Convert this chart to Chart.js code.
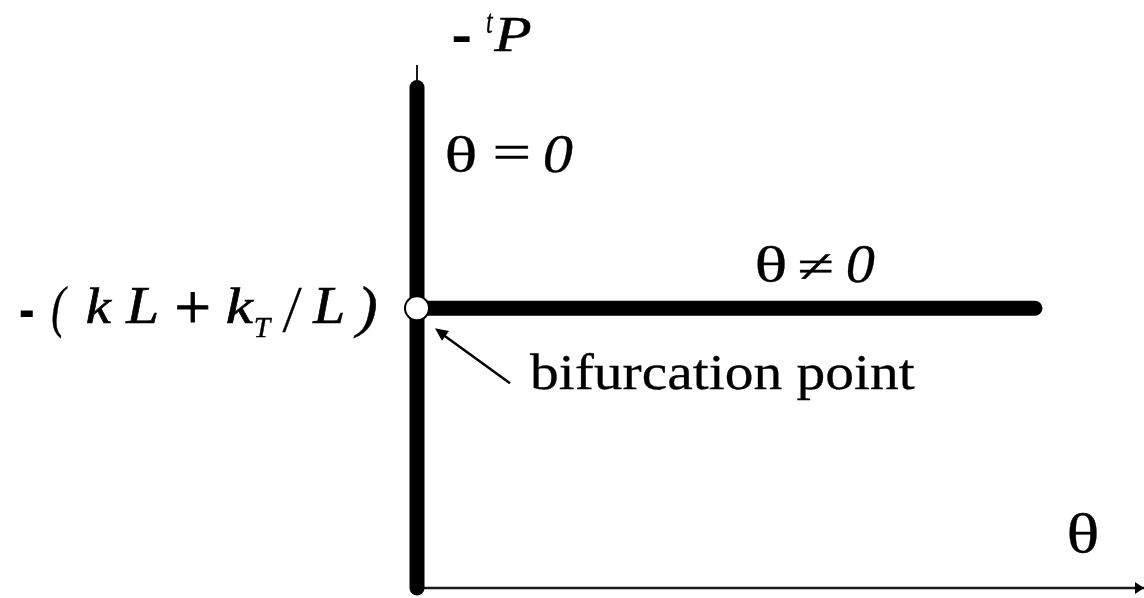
<!DOCTYPE html>
<html>
<head>
<meta charset="utf-8">
<script src="https://cdn.jsdelivr.net/npm/chart.js@4"></script>
<style>
  html, body { margin: 0; padding: 0; background: #fff; }
  canvas { display: block; }
</style>
</head>
<body>
<canvas id="bifurcation_chart" width="1144" height="598"></canvas>
<script>
const ctx = document.getElementById("bifurcation_chart");

// axis ranges (theta horizontally, -tP vertically)
const thetaRange = [0, 10];
const loadRange = [0, 10];

// trivial branch theta = 0 and buckled branch theta != 0
const criticalLoad = 5.35;
const trivialTheta = [0, 0];
const trivialLoad = [0, 9.57];
const buckledTheta = [0, 8.5];
const buckledLoad = [criticalLoad, criticalLoad];

const criticalLabel = ["-", "(", "k", "L", "+", "k", "T", "/", "L", ")"];

const toPoints = (xs, ys) => xs.map((x, i) => ({ x: x, y: ys[i] }));

const serif = '"Liberation Serif", "Times New Roman", serif';

// draws text so that its ink fills the given box, with a light outline for weight
function inkText(c, text, font, x0, y0, x1, y1, weight) {
  c.font = font;
  c.textAlign = "left";
  c.textBaseline = "alphabetic";
  const m = c.measureText(text);
  const w = m.actualBoundingBoxLeft + m.actualBoundingBoxRight;
  const h = m.actualBoundingBoxAscent + m.actualBoundingBoxDescent;
  const sx = (x1 - x0) / w;
  const sy = (y1 - y0) / h;
  const px = m.actualBoundingBoxLeft;
  const py = m.actualBoundingBoxAscent;
  c.save();
  c.translate(x0, y0);
  c.scale(sx, sy);
  c.fillText(text, px, py);
  if (weight) {
    c.lineWidth = weight / Math.sqrt(sx * sy);
    c.lineJoin = "miter";
    c.strokeText(text, px, py);
  }
  c.restore();
}

function arrowHead(c, fromX, fromY, toX, toY, len, half) {
  const a = Math.atan2(toY - fromY, toX - fromX);
  c.beginPath();
  c.moveTo(toX, toY);
  c.lineTo(toX - len * Math.cos(a) + half * Math.sin(a), toY - len * Math.sin(a) - half * Math.cos(a));
  c.lineTo(toX - len * Math.cos(a) - half * Math.sin(a), toY - len * Math.sin(a) + half * Math.cos(a));
  c.closePath();
  c.fill();
}

const labelsPlugin = {
  id: "labels",
  afterDatasetsDraw(chart) {
    const c = chart.ctx;
    const xs = chart.scales.x;
    const ys = chart.scales.y;
    const x0 = xs.getPixelForValue(0);
    const y0 = ys.getPixelForValue(0);
    const right = xs.getPixelForValue(thetaRange[1]);
    const bx = xs.getPixelForValue(0);
    const by = ys.getPixelForValue(criticalLoad);

    c.save();
    c.fillStyle = "#000";
    c.strokeStyle = "#000";

    // arrow at the end of the theta axis
    arrowHead(c, x0, y0, right, y0, 9, 6);

    // pointer to the bifurcation point
    const tipX = bx + 18, tipY = by + 20;
    const tailX = bx + 93, tailY = by + 75;
    c.lineWidth = 2.5;
    c.beginPath();
    c.moveTo(tailX, tailY);
    c.lineTo(tipX + 6, tipY + 5);
    c.stroke();
    arrowHead(c, tailX, tailY, tipX, tipY, 13, 6);

    // vertical axis title  - tP
    inkText(c, "-", "44px " + serif, 453, 34, 471, 41, 0);
    inkText(c, "t", "italic 24px " + serif, 487, 13, 494, 33, 0.3);
    inkText(c, "P", "italic 50px " + serif, 493, 18, 531, 51, 0.5);

    // horizontal axis title
    inkText(c, "\u03b8", "54px " + serif, 1069, 513, 1097, 553, 0.3);

    // critical load  - (kL + kT/L)
    const boxes = [
      [20, 309, 33, 316, "50px ", 0],
      [52, 285, 68, 338, "italic 50px ", 0.4],
      [87, 287, 112, 323, "italic 50px ", 0.7],
      [125, 288, 157, 323, "italic 50px ", 0.7],
      [177, 293, 208, 323, "50px ", 1.0],
      [227, 287, 254, 323, "italic 50px ", 0.7],
      [255, 318, 272, 337, "italic 26px ", 0.4],
      [282, 287, 302, 332, "italic 50px ", 0.4],
      [312, 288, 343, 323, "italic 50px ", 0.7],
      [353, 285, 377, 338, "italic 50px ", 0.4],
    ];
    criticalLabel.forEach((t, i) => {
      const b = boxes[i];
      inkText(c, t, b[4] + serif, b[0], b[1], b[2], b[3], b[5]);
    });

    // branch labels
    inkText(c, "\u03b8", "54px " + serif, 447, 135, 475, 173, 0.3);
    inkText(c, "=", "54px " + serif, 495, 146, 528, 159, 0.5);
    inkText(c, "0", "italic 54px " + serif, 545, 135, 573, 173, 0.3);

    inkText(c, "\u03b8", "54px " + serif, 757, 245, 785, 283, 0.3);
    inkText(c, "\u2260", "54px " + serif, 800, 253, 832, 279, 0.5);
    inkText(c, "0", "italic 54px " + serif, 848, 245, 875, 283, 0.3);

    inkText(c, "bifurcation point", "46px " + serif, 530, 352, 915, 400, 0.3);
    c.restore();
  },
};

const bifurcationChart = new Chart(ctx, {
  type: "scatter",
  data: {
    datasets: [
      {
        label: "theta axis",
        data: toPoints(thetaRange, [0, 0]),
        showLine: true,
        borderColor: "#1a1a1a",
        borderWidth: 2.5,
        pointRadius: 0,
        clip: false,
        order: 4,
      },
      {
        label: "load axis",
        data: toPoints([0, 0], loadRange),
        showLine: true,
        borderColor: "#1a1a1a",
        borderWidth: 2,
        pointRadius: 0,
        clip: false,
        order: 4,
      },
      {
        label: "theta = 0",
        data: toPoints(trivialTheta, trivialLoad),
        showLine: true,
        borderColor: "#000",
        borderWidth: 15,
        borderCapStyle: "round",
        pointRadius: 0,
        clip: false,
        order: 3,
      },
      {
        label: "theta != 0",
        data: toPoints(buckledTheta, buckledLoad),
        showLine: true,
        borderColor: "#000",
        borderWidth: 15,
        borderCapStyle: "round",
        pointRadius: 0,
        clip: false,
        order: 2,
      },
      {
        label: "bifurcation point",
        data: toPoints([0], [criticalLoad]),
        showLine: false,
        pointRadius: 12,
        pointBackgroundColor: "#fff",
        pointBorderColor: "#000",
        pointBorderWidth: 2,
        clip: false,
        order: 1,
      },
    ],
  },
  options: {
    responsive: false,
    animation: false,
    layout: {
      autoPadding: false,
      padding: { left: 417, right: 0, top: 65, bottom: 10 },
    },
    plugins: {
      legend: { display: false },
      tooltip: { enabled: false },
    },
    scales: {
      x: { type: "linear", display: false, min: thetaRange[0], max: thetaRange[1] },
      y: { type: "linear", display: false, min: loadRange[0], max: loadRange[1] },
    },
  },
  plugins: [labelsPlugin],
});
</script>
</body>
</html>
